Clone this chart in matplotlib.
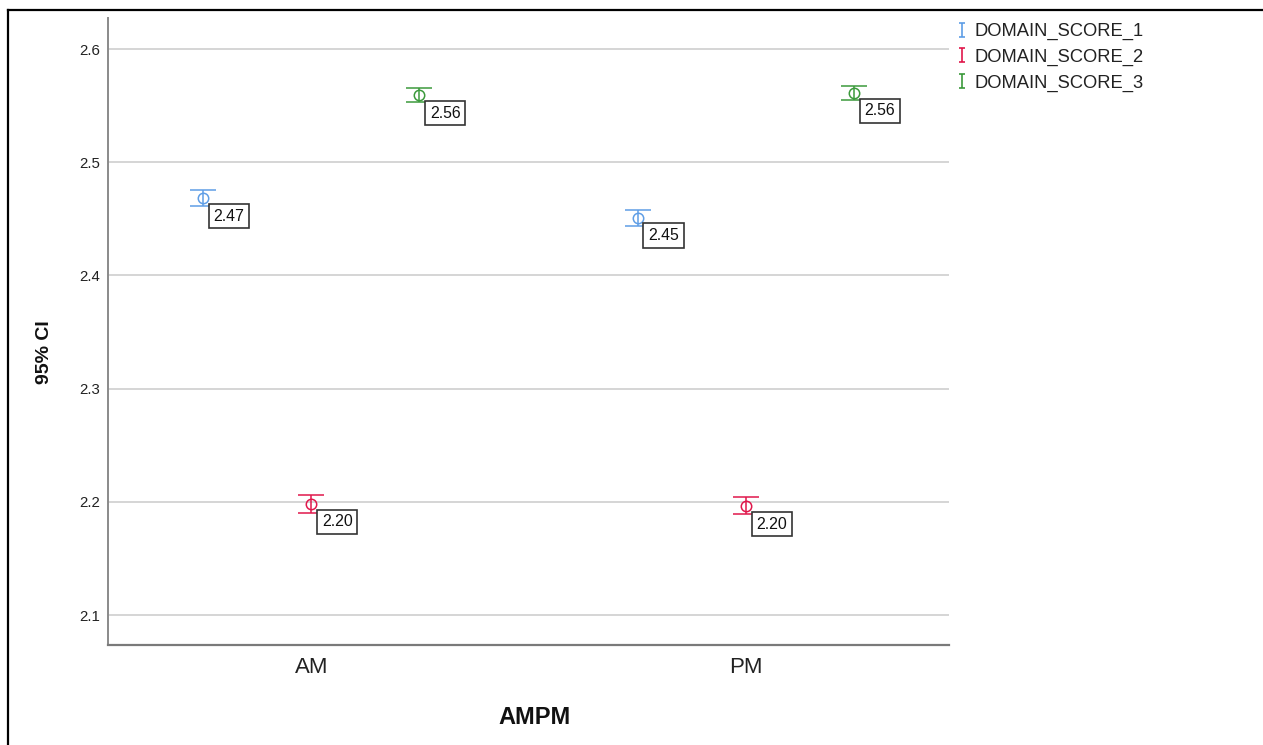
import matplotlib
matplotlib.use("Agg")
import matplotlib.pyplot as plt
from matplotlib.path import Path
from matplotlib.lines import Line2D
import numpy as np

plt.rcParams['font.family'] = ['Liberation Sans', 'DejaVu Sans']

# Data: group means with 95% confidence limits
groups = ['AM', 'PM']
series = ['DOMAIN_SCORE_1', 'DOMAIN_SCORE_2', 'DOMAIN_SCORE_3']
colors = ['#5f9ee6', '#e0184c', '#3c9a3c']

mean_1 = [2.468, 2.451]
lower_1 = [2.4615, 2.4435]
upper_1 = [2.4755, 2.4575]

mean_2 = [2.198, 2.196]
lower_2 = [2.190, 2.189]
upper_2 = [2.206, 2.204]

mean_3 = [2.559, 2.561]
lower_3 = [2.553, 2.555]
upper_3 = [2.566, 2.567]

means = [mean_1, mean_2, mean_3]
lowers = [lower_1, lower_2, lower_3]
uppers = [upper_1, upper_2, upper_3]

W, H, DPI = 1263, 745, 100
fig = plt.figure(figsize=(W / DPI, H / DPI), dpi=DPI)
ax = fig.add_axes([108 / W, 1 - 645 / H, (949 - 108) / W, (645 - 18) / H])

x = np.arange(len(groups))
offsets = [-0.249, 0.0, 0.249]

for name, col, m, lo, hi, off in zip(series, colors, means, lowers, uppers, offsets):
    m = np.asarray(m)
    yerr = np.vstack([m - np.asarray(lo), np.asarray(hi) - m])
    ax.errorbar(x + off, m, yerr=yerr, fmt='o', color=col, ecolor=col,
                mfc='none', mec=col, ms=7.5, mew=1.1, elinewidth=1.1,
                capsize=9.5, capthick=1.4, zorder=3)
    for xi, mi in zip(x + off, m):
        ax.annotate(f'{mi:.2f}', xy=(xi, mi), xytext=(7.6, -7.4),
                    textcoords='offset points', ha='left', va='top',
                    fontsize=11.4, color='#111111', zorder=4,
                    bbox=dict(boxstyle='square,pad=0.3', fc='white',
                              ec='#333333', lw=1.2))

ax.set_xlim(-0.4677, 1.4677)
ax.set_ylim(2.0735, 2.6274)
ax.set_xticks(x)
ax.set_xticklabels(groups, fontsize=16, color='#222222')
ax.set_yticks([2.1, 2.2, 2.3, 2.4, 2.5, 2.6])
ax.set_yticklabels(['2.1', '2.2', '2.3', '2.4', '2.5', '2.6'], fontsize=10.8,
                   color='#222222')
ax.tick_params(axis='both', length=0)
ax.tick_params(axis='y', pad=5.8)
ax.tick_params(axis='x', pad=8.5)

ax.grid(axis='y', color='#d2d2d2', lw=1.3)
ax.set_axisbelow(True)
for s in ['top', 'right']:
    ax.spines[s].set_visible(False)
ax.spines['left'].set_color('#8a8a8a')
ax.spines['bottom'].set_color('#7a7a7a')
ax.spines['left'].set_linewidth(1.4)
ax.spines['bottom'].set_linewidth(1.6)

ax.set_xlabel('AMPM', fontsize=17, fontweight='bold', va='center',
              color='#111111')
ax.xaxis.set_label_coords((535 - 108) / 841, (645 - 717) / 627)
ax.set_ylabel('95% CI', fontsize=14, fontweight='bold', va='center',
              color='#111111')
ax.yaxis.set_label_coords((45 - 108) / 841, 0.467)

# Legend with I-shaped error bar glyphs
ibar = Path([(-0.45, 1), (0.45, 1), (0, 1), (0, -1), (-0.45, -1), (0.45, -1)],
            [Path.MOVETO, Path.LINETO, Path.MOVETO, Path.LINETO,
             Path.MOVETO, Path.LINETO])
handles = [Line2D([], [], ls='none', marker=ibar, ms=10, mew=1.2,
                  color=c, mec=c) for c in colors]
fig.legend(handles, series, loc='upper left',
           bbox_to_anchor=(947 / W, 1 - 14 / H), frameon=False,
           fontsize=13.2, handlelength=0.6, handletextpad=0.4,
           labelspacing=0.46, borderpad=0, labelcolor='#222222')

# Outer frame (top and left edges)
fig.add_artist(Line2D([7.5 / W, 1], [1 - 9.5 / H, 1 - 9.5 / H],
                      transform=fig.transFigure, color='black', lw=1.6))
fig.add_artist(Line2D([7.5 / W, 7.5 / W], [0, 1 - 9.5 / H],
                      transform=fig.transFigure, color='black', lw=1.6))

fig.savefig('out.png', dpi=DPI, facecolor='white')
